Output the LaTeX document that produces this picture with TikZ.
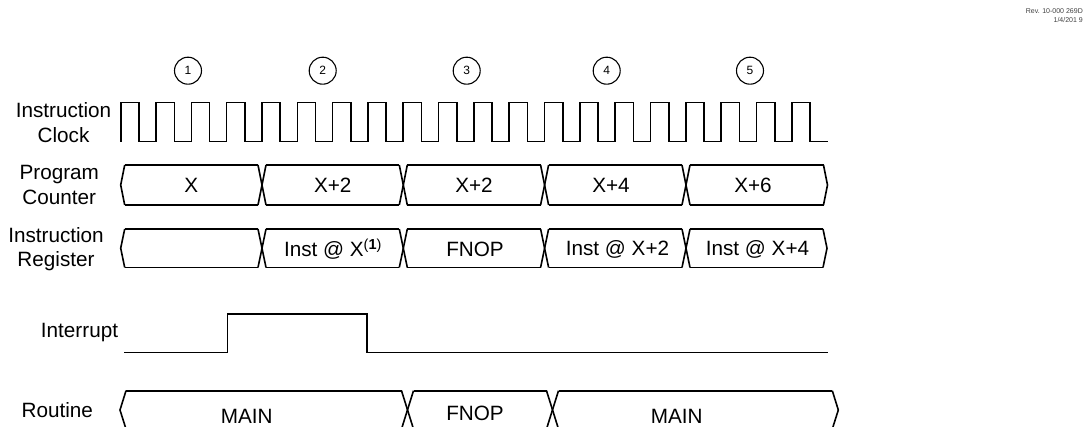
\documentclass[tikz,border=0pt]{standalone}
\usepackage{fontspec}
\setmainfont{Liberation Sans}
\begin{document}
\begin{tikzpicture}[x=1pt,y=-1pt,
  sig/.style={line width=1.6pt, line join=miter},
  lbl/.style={inner sep=0pt, align=center, font=\fontsize{20.7}{24.5}\selectfont},
  val/.style={inner sep=0pt, font=\fontsize{20.7}{24}\selectfont},
  cyc/.style={circle, draw, line width=1.1pt, minimum size=27pt, inner sep=0pt, font=\fontsize{12}{14}\selectfont},
  rev/.style={inner sep=0pt, align=right, text=black!75, font=\fontsize{7}{9}\selectfont}]
\useasboundingbox (0,0) rectangle (1091,427);

% revision note
\node[rev, anchor=north east] (rev) at (1083,8) {Rev. 10-000 269D\\1/4/201 9};

% cycle numbers
\node[cyc] (c1) at (188,70.7) {1};
\node[cyc] (c2) at (322.7,70.7) {2};
\node[cyc] (c3) at (466.7,70.7) {3};
\node[cyc] (c4) at (606.7,70.7) {4};
\node[cyc] (c5) at (750,70.7) {5};

% row labels
\node[lbl] (lclk) at (63.5,122.5) {Instruction\\Clock};
\node[lbl] (lpc) at (59.3,185) {Program\\Counter};
\node[lbl] (lir) at (56,249) {Instruction\\Register};
\node[lbl] (lint) at (79.5,332.5) {Interrupt};
\node[lbl] (lrou) at (57.3,410) {Routine};

% instruction clock
\draw[sig] (120.7,141.7)
  \foreach \i in {0,...,19}{ -- ({120.7+35.32*\i},141.7) -- ++(0,-39) -- ++(18.3,0) -- ++(0,39) }
  -- (828.3,141.7);

% program counter
\foreach \xa/\xb in {120.7/262,262/403.3,403.3/544.6,544.6/686,686/827.5}{
  \draw[sig] (\xa+4,165) -- (\xb-4,165);
  \draw[sig] (\xa+4,205) -- (\xb-4,205);
}
\foreach \b in {262,403.3,544.6,686}{
  \draw[sig] (\b-4,165) -- (\b+4,205);
  \draw[sig] (\b-4,205) -- (\b+4,165);
}
\draw[sig] (124.7,165) -- (120.7,185) -- (124.7,205);
\draw[sig] (823.5,165) -- (827.5,185) -- (823.5,205);
\node[val] (pc1) at (191.3,185) {X};
\node[val] (pc2) at (332.7,185) {X+2};
\node[val] (pc3) at (474,185) {X+2};
\node[val] (pc4) at (611,185) {X+4};
\node[val] (pc5) at (753,185) {X+6};

% instruction register
\foreach \xa/\xb in {120.7/262,262/403.3,403.3/544.6,544.6/686,686/827}{
  \draw[sig] (\xa+4,229) -- (\xb-4,229);
  \draw[sig] (\xa+4,267.5) -- (\xb-4,267.5);
}
\foreach \b in {262,403.3,544.6,686}{
  \draw[sig] (\b-4,229) -- (\b+4,267.5);
  \draw[sig] (\b-4,267.5) -- (\b+4,229);
}
\draw[sig] (124.7,229) -- (120.7,248.2) -- (124.7,267.5);
\draw[sig] (823,229) -- (827,248.2) -- (823,267.5);
\node[val] (ir2) at (333,249) {Inst @ X\textsuperscript{(\textbf{1})}};
\node[val] (ir3) at (475,249) {FNOP};
\node[val] (ir4) at (617.5,249) {Inst @ X+2};
\node[val] (ir5) at (757.5,249) {Inst @ X+4};

% interrupt
\draw[sig] (124,352.3) -- (227.3,352.3) -- (227.3,314) -- (366.7,314) -- (366.7,352.3) -- (828.3,352.3);

% routine
\foreach \xa/\xb in {120/407.5,407.5/552.5,552.5/838.3}{
  \draw[sig] (\xa+6,390.7) -- (\xb-6,390.7);
  \draw[sig] (\xa+6,429) -- (\xb-6,429);
}
\foreach \b in {407.5,552.5}{
  \draw[sig] (\b-6,390.7) -- (\b+6,429);
  \draw[sig] (\b-6,429) -- (\b+6,390.7);
}
\draw[sig] (126,390.7) -- (120,410) -- (126,429);
\draw[sig] (832.3,390.7) -- (838.3,410) -- (832.3,429);
\node[val] (r1) at (246.7,416.5) {MAIN};
\node[val] (r2) at (475,413) {FNOP};
\node[val] (r3) at (676.7,416.5) {MAIN};
\end{tikzpicture}
\end{document}
